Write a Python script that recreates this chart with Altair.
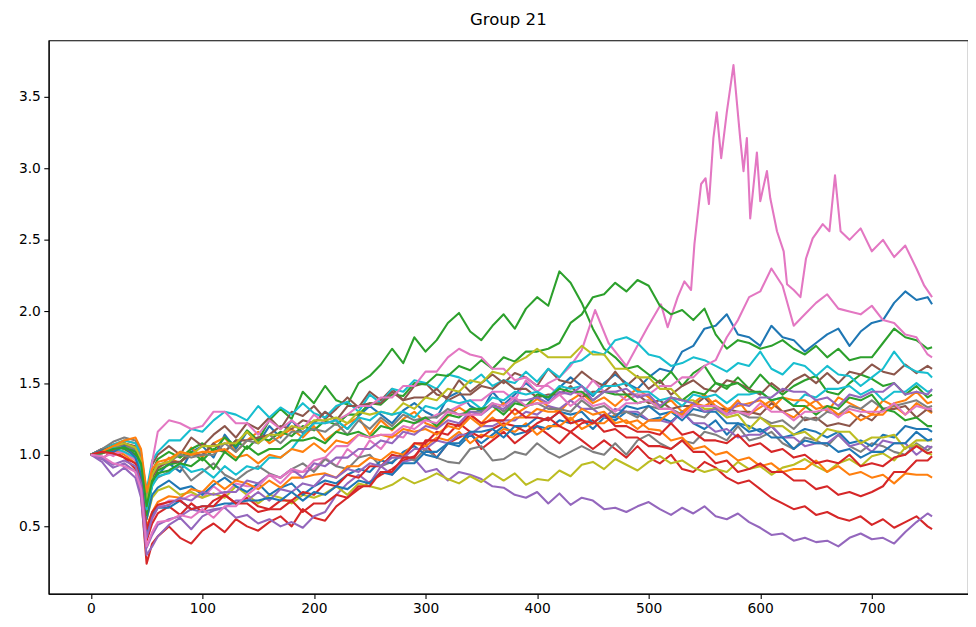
import altair as alt
import pandas as pd

TITLE = "Group 21"

X_GRID = [0, 10, 20, 30, 40, 45, 50, 55, 60,
          70, 80, 90, 100, 110, 120, 130, 140, 150, 160,
          170, 180, 190, 200, 210, 220, 230, 240, 250, 260,
          270, 280, 290, 300, 310, 320, 330, 340, 350, 360,
          370, 380, 390, 400, 410, 420, 430, 440, 450, 460,
          470, 480, 490, 500, 510, 520, 530, 540, 550, 560,
          570, 580, 590, 600, 610, 620, 630, 640, 650, 660,
          670, 680, 690, 700, 710, 720, 730, 740, 750, 754]

blue1 = [1.00,1.04,1.00,1.08,1.02,0.88,0.62,0.82,0.86,
         0.94,0.88,1.02,1.06,0.98,1.14,1.04,1.16,1.08,1.20,
         1.12,1.24,1.15,1.22,1.30,1.24,1.18,1.27,1.34,1.28,
         1.22,1.31,1.36,1.30,1.26,1.40,1.44,1.34,1.30,1.44,
         1.35,1.42,1.50,1.44,1.38,1.47,1.54,1.48,1.41,1.50,
         1.56,1.50,1.46,1.54,1.60,1.58,1.72,1.76,1.88,1.90,
         1.98,1.84,1.82,1.76,1.90,1.82,1.80,1.72,1.78,1.84,
         1.88,1.76,1.86,1.92,1.94,2.06,2.14,2.08,2.10,2.05]
orange1 = [1.00,1.02,1.07,1.10,1.08,1.00,0.70,0.86,0.90,
           0.98,0.94,1.05,0.98,1.08,1.12,1.02,1.10,1.16,1.08,
           1.13,1.18,1.12,1.20,1.10,1.16,1.22,1.26,1.14,1.24,
           1.17,1.25,1.30,1.22,1.19,1.27,1.33,1.28,1.22,1.30,
           1.36,1.28,1.33,1.39,1.34,1.30,1.38,1.43,1.36,1.40,
           1.34,1.41,1.46,1.40,1.34,1.38,1.30,1.36,1.42,1.34,
           1.30,1.38,1.28,1.33,1.38,1.30,1.26,1.33,1.38,1.30,
           1.40,1.36,1.32,1.28,1.38,1.34,1.28,1.36,1.31,1.29]
green1 = [1.00,1.03,1.04,1.08,1.04,0.95,0.65,0.88,0.97,
          1.02,0.98,1.04,1.08,1.03,1.12,1.06,1.17,1.10,1.24,
          1.32,1.25,1.44,1.36,1.48,1.38,1.35,1.50,1.55,1.63,
          1.74,1.64,1.82,1.72,1.80,1.92,1.99,1.86,1.80,1.90,
          1.98,1.88,2.02,2.10,2.04,2.28,2.20,2.06,1.88,1.74,
          1.68,1.60,1.62,1.56,1.50,1.58,1.48,1.57,1.62,1.50,
          1.46,1.54,1.46,1.56,1.48,1.42,1.48,1.52,1.55,1.44,
          1.42,1.50,1.56,1.53,1.48,1.50,1.42,1.48,1.40,1.42]
red1 = [1.00,0.97,1.03,0.98,0.90,0.72,0.24,0.38,0.43,
        0.50,0.42,0.38,0.47,0.52,0.46,0.55,0.50,0.47,0.53,
        0.57,0.50,0.62,0.56,0.54,0.64,0.70,0.76,0.81,0.86,
        0.90,0.96,0.99,1.07,0.98,1.08,1.12,1.16,1.04,1.10,
        1.16,1.08,1.14,1.20,1.14,1.08,1.16,1.10,1.04,1.10,
        1.04,0.98,1.06,0.98,0.94,1.00,0.90,0.88,0.95,0.91,
        0.84,0.80,0.82,0.76,0.70,0.66,0.62,0.64,0.58,0.60,
        0.56,0.54,0.57,0.51,0.55,0.49,0.53,0.57,0.50,0.48]
purple1 = [1.00,0.95,0.85,0.91,0.84,0.70,0.30,0.36,0.43,
           0.51,0.56,0.48,0.57,0.61,0.63,0.56,0.58,0.52,0.55,
           0.50,0.53,0.49,0.57,0.60,0.72,0.80,0.86,0.80,0.92,
           0.86,0.95,0.97,0.88,0.90,0.82,0.88,0.86,0.83,0.78,
           0.77,0.72,0.70,0.74,0.66,0.73,0.65,0.70,0.68,0.62,
           0.63,0.60,0.64,0.67,0.62,0.58,0.63,0.59,0.64,0.57,
           0.55,0.59,0.53,0.49,0.44,0.45,0.40,0.42,0.39,0.40,
           0.36,0.42,0.45,0.41,0.42,0.38,0.46,0.53,0.59,0.57]
brown1 = [1.00,1.04,1.07,1.08,1.06,0.98,0.72,0.93,1.00,
          1.06,1.00,1.12,1.06,1.14,1.20,1.12,1.22,1.18,1.26,
          1.18,1.30,1.27,1.34,1.25,1.32,1.40,1.33,1.44,1.38,
          1.46,1.38,1.48,1.50,1.42,1.40,1.52,1.44,1.50,1.56,
          1.50,1.57,1.54,1.48,1.60,1.52,1.50,1.58,1.52,1.48,
          1.58,1.48,1.55,1.46,1.52,1.42,1.48,1.52,1.46,1.44,
          1.52,1.50,1.46,1.42,1.50,1.44,1.52,1.56,1.50,1.57,
          1.50,1.58,1.56,1.63,1.58,1.56,1.63,1.57,1.62,1.60]
gray1 = [1.00,1.04,1.09,1.12,1.10,1.02,0.60,0.79,0.84,
         0.88,0.92,0.82,0.88,0.94,0.86,0.82,0.88,0.92,0.87,
         0.84,0.90,0.94,0.88,0.97,0.92,0.90,0.98,1.00,0.92,
         0.95,1.00,0.96,1.04,0.98,0.95,0.94,1.04,1.06,0.96,
         0.97,1.02,1.00,1.08,1.02,0.98,1.02,1.06,1.02,1.00,
         1.08,1.00,1.10,1.14,1.08,1.04,1.10,1.08,1.16,1.14,
         1.10,1.20,1.10,1.12,1.16,1.08,1.04,1.12,1.10,1.06,
         1.14,1.06,1.02,1.08,1.06,1.02,1.00,1.08,1.03,1.06]
olive1 = [1.00,1.02,1.05,1.02,0.96,0.86,0.55,0.70,0.75,
          0.78,0.72,0.74,0.70,0.73,0.70,0.78,0.72,0.66,0.72,
          0.70,0.66,0.72,0.70,0.73,0.78,0.72,0.80,0.78,0.76,
          0.79,0.84,0.80,0.83,0.87,0.83,0.80,0.85,0.81,0.87,
          0.82,0.87,0.79,0.83,0.82,0.89,0.85,0.93,0.95,0.90,
          0.97,0.93,0.89,0.95,0.99,0.94,0.96,0.91,0.88,0.90,
          0.88,0.95,0.90,0.92,0.86,0.91,0.93,0.97,0.92,0.88,
          0.94,0.97,0.92,0.99,1.01,0.96,1.05,1.07,1.01,1.00]
cyan1 = [1.00,1.03,1.07,1.10,1.08,1.00,0.75,0.96,1.02,
         1.10,1.10,1.18,1.16,1.24,1.30,1.28,1.24,1.34,1.26,
         1.33,1.28,1.36,1.29,1.26,1.34,1.37,1.30,1.42,1.36,
         1.46,1.44,1.52,1.50,1.46,1.56,1.54,1.50,1.56,1.48,
         1.52,1.50,1.58,1.51,1.60,1.54,1.64,1.66,1.72,1.70,
         1.80,1.82,1.78,1.70,1.68,1.62,1.64,1.68,1.66,1.62,
         1.58,1.64,1.62,1.72,1.60,1.56,1.64,1.62,1.55,1.62,
         1.56,1.55,1.48,1.54,1.60,1.72,1.62,1.58,1.57,1.54]
blue2 = [1.00,1.02,1.05,1.06,1.00,0.90,0.55,0.72,0.77,
         0.82,0.76,0.78,0.72,0.79,0.84,0.78,0.74,0.80,0.72,
         0.77,0.80,0.72,0.78,0.82,0.80,0.86,0.90,0.88,0.96,
         0.94,1.02,1.06,1.00,0.98,1.08,1.06,1.14,1.08,1.14,
         1.20,1.14,1.16,1.20,1.18,1.24,1.22,1.25,1.18,1.26,
         1.24,1.30,1.28,1.24,1.26,1.23,1.30,1.22,1.18,1.24,
         1.14,1.22,1.20,1.16,1.20,1.12,1.14,1.18,1.16,1.12,
         1.16,1.08,1.10,1.06,1.14,1.12,1.20,1.18,1.18,1.16]
orange2 = [1.00,1.01,1.04,1.00,0.94,0.82,0.50,0.60,0.67,
           0.71,0.70,0.76,0.74,0.82,0.76,0.82,0.80,0.76,0.82,
           0.77,0.84,0.84,0.86,0.87,0.84,0.92,0.92,0.98,0.96,
           1.02,1.00,1.08,1.06,1.12,1.10,1.16,1.08,1.14,1.12,
           1.18,1.16,1.22,1.14,1.20,1.20,1.26,1.18,1.22,1.22,
           1.28,1.22,1.24,1.18,1.17,1.10,1.12,1.04,1.06,1.00,
           1.02,0.96,0.98,0.92,0.94,0.88,0.90,0.90,0.96,0.88,
           0.92,0.86,0.88,0.84,0.86,0.80,0.87,0.86,0.86,0.84]
green2 = [1.00,1.02,1.06,1.04,1.00,0.92,0.58,0.80,0.89,
          0.93,0.95,1.02,0.96,1.04,1.02,1.10,1.04,1.12,1.10,
          1.16,1.13,1.20,1.17,1.24,1.21,1.28,1.28,1.36,1.35,
          1.42,1.41,1.50,1.49,1.56,1.55,1.62,1.59,1.66,1.60,
          1.68,1.65,1.72,1.72,1.74,1.78,1.92,1.98,2.10,2.12,
          2.20,2.14,2.22,2.18,2.04,1.98,2.01,1.94,2.02,1.84,
          1.74,1.80,1.78,1.74,1.76,1.80,1.74,1.70,1.76,1.68,
          1.74,1.66,1.68,1.68,1.78,1.88,1.82,1.80,1.74,1.75]
red2 = [1.00,1.01,1.04,1.06,0.98,0.84,0.40,0.52,0.59,
        0.64,0.58,0.66,0.60,0.68,0.72,0.66,0.70,0.64,0.62,
        0.68,0.68,0.74,0.72,0.80,0.78,0.86,0.84,0.92,0.92,
        1.00,0.98,1.08,1.08,1.16,1.14,1.22,1.16,1.12,1.18,
        1.22,1.20,1.16,1.22,1.26,1.20,1.16,1.22,1.24,1.16,
        1.18,1.12,1.12,1.06,1.06,1.04,1.10,1.02,1.02,0.94,
        0.96,0.88,0.90,0.94,0.88,0.88,0.82,0.82,0.76,0.78,
        0.72,0.74,0.71,0.74,0.78,0.88,0.88,0.96,0.96,0.99]
purple2 = [1.00,0.97,0.91,0.94,0.88,0.74,0.35,0.44,0.51,
           0.55,0.57,0.62,0.60,0.62,0.63,0.68,0.68,0.74,0.68,
           0.76,0.74,0.80,0.78,0.86,0.84,0.90,0.88,0.94,0.92,
           0.98,0.98,1.04,1.04,1.10,1.08,1.14,1.14,1.20,1.20,
           1.24,1.24,1.30,1.28,1.34,1.32,1.38,1.32,1.32,1.26,
           1.32,1.30,1.30,1.24,1.24,1.22,1.30,1.22,1.22,1.16,
           1.18,1.12,1.14,1.14,1.20,1.12,1.12,1.06,1.08,1.08,
           1.14,1.06,1.08,1.02,1.10,1.08,1.08,1.00,1.06,1.05]
brown2 = [1.00,1.03,1.06,1.07,1.04,0.96,0.66,0.84,0.91,
          0.95,0.95,1.00,1.00,1.08,1.02,1.10,1.10,1.12,1.14,
          1.20,1.18,1.24,1.22,1.30,1.24,1.34,1.34,1.36,1.36,
          1.44,1.38,1.40,1.40,1.46,1.38,1.42,1.42,1.48,1.46,
          1.52,1.46,1.46,1.40,1.42,1.42,1.48,1.40,1.44,1.44,
          1.50,1.42,1.42,1.36,1.38,1.32,1.34,1.34,1.40,1.32,
          1.32,1.30,1.30,1.28,1.36,1.30,1.32,1.24,1.26,1.20,
          1.22,1.20,1.28,1.24,1.32,1.32,1.34,1.26,1.32,1.30]
pink2 = [1.00,0.98,1.01,1.02,0.96,0.88,0.62,0.95,1.16,
         1.24,1.22,1.18,1.20,1.30,1.30,1.22,1.22,1.14,1.24,
         1.18,1.24,1.18,1.28,1.22,1.24,1.28,1.34,1.34,1.40,
         1.40,1.48,1.48,1.58,1.58,1.68,1.74,1.70,1.68,1.60,
         1.60,1.52,1.54,1.48,1.48,1.42,1.44,1.42,1.52,1.44,
         1.44,1.38,1.42,1.42,1.48,1.48,1.54,1.54,1.62,1.66,
         1.82,1.94,2.10,2.14,2.30,2.18,1.90,1.98,2.06,2.12,
         2.02,2.00,1.98,2.04,1.94,1.92,1.84,1.82,1.70,1.68]
gray2 = [1.00,1.02,1.05,1.06,1.04,1.00,0.70,0.86,0.93,
         0.95,1.00,0.98,1.00,1.00,1.08,1.02,1.10,1.08,1.14,
         1.08,1.16,1.16,1.18,1.16,1.22,1.14,1.24,1.18,1.26,
         1.20,1.28,1.24,1.26,1.26,1.32,1.28,1.30,1.30,1.36,
         1.30,1.38,1.34,1.36,1.32,1.32,1.30,1.38,1.32,1.34,
         1.28,1.30,1.26,1.34,1.32,1.32,1.28,1.28,1.26,1.34,
         1.28,1.30,1.26,1.26,1.22,1.24,1.18,1.26,1.24,1.30,
         1.28,1.34,1.32,1.38,1.32,1.34,1.36,1.38,1.33,1.34]
olive2 = [1.00,1.02,1.06,1.08,1.05,0.96,0.66,0.86,0.93,
          0.95,1.02,1.00,1.06,1.06,1.08,1.08,1.16,1.08,1.14,
          1.14,1.20,1.18,1.24,1.24,1.26,1.22,1.30,1.28,1.30,
          1.28,1.36,1.32,1.40,1.38,1.46,1.44,1.52,1.50,1.58,
          1.56,1.64,1.68,1.74,1.68,1.68,1.68,1.76,1.70,1.70,
          1.60,1.60,1.54,1.54,1.46,1.46,1.38,1.38,1.32,1.32,
          1.26,1.28,1.18,1.26,1.20,1.20,1.14,1.16,1.10,1.18,
          1.16,1.16,1.08,1.12,1.12,1.14,1.04,1.10,1.10,1.10]
cyan2 = [1.00,1.01,1.05,1.02,0.98,0.90,0.62,0.78,0.85,
         0.87,0.94,0.88,0.90,0.84,0.92,0.86,0.92,0.90,0.98,
         0.98,1.04,1.14,1.22,1.22,1.24,1.18,1.26,1.24,1.30,
         1.28,1.30,1.26,1.34,1.32,1.38,1.36,1.38,1.32,1.40,
         1.38,1.44,1.42,1.44,1.40,1.48,1.46,1.48,1.42,1.48,
         1.48,1.50,1.44,1.44,1.38,1.40,1.34,1.42,1.40,1.42,
         1.36,1.42,1.42,1.44,1.38,1.40,1.34,1.42,1.40,1.46,
         1.46,1.48,1.42,1.46,1.38,1.44,1.44,1.50,1.44,1.45]
blue3 = [1.00,1.03,1.02,1.06,0.98,0.86,0.46,0.58,0.63,
         0.63,0.68,0.62,0.64,0.64,0.66,0.66,0.68,0.68,0.70,
         0.68,0.74,0.68,0.74,0.72,0.78,0.76,0.82,0.80,0.88,
         0.86,0.94,0.94,1.02,1.02,1.08,1.08,1.16,1.16,1.18,
         1.12,1.20,1.20,1.26,1.24,1.30,1.28,1.30,1.22,1.28,
         1.26,1.34,1.32,1.34,1.28,1.30,1.24,1.32,1.30,1.30,
         1.22,1.22,1.16,1.18,1.12,1.12,1.04,1.10,1.08,1.08,
         1.02,1.04,0.98,1.02,1.02,1.08,1.08,1.16,1.10,1.11]
orange3 = [1.00,1.02,1.06,1.10,1.12,1.04,0.74,0.90,0.95,
           0.97,1.02,1.00,1.02,1.02,1.04,0.98,1.00,0.94,1.00,
           0.98,1.04,1.02,1.08,1.02,1.10,1.08,1.14,1.12,1.14,
           1.12,1.18,1.16,1.18,1.14,1.20,1.18,1.26,1.20,1.26,
           1.20,1.26,1.26,1.32,1.30,1.30,1.24,1.32,1.28,1.30,
           1.22,1.24,1.18,1.24,1.24,1.30,1.28,1.36,1.34,1.38,
           1.32,1.34,1.36,1.38,1.32,1.40,1.38,1.38,1.32,1.34,
           1.28,1.30,1.24,1.28,1.28,1.36,1.38,1.44,1.36,1.37]
green3 = [1.00,1.01,1.04,1.05,1.02,0.94,0.64,0.82,0.87,
          0.89,0.94,0.92,0.98,0.90,1.02,0.96,1.06,1.00,1.04,
          1.04,1.10,1.10,1.12,1.08,1.16,1.14,1.16,1.12,1.20,
          1.18,1.24,1.22,1.26,1.20,1.28,1.26,1.32,1.32,1.34,
          1.28,1.36,1.34,1.42,1.40,1.46,1.44,1.44,1.38,1.44,
          1.42,1.42,1.36,1.38,1.32,1.40,1.38,1.44,1.42,1.50,
          1.48,1.50,1.44,1.44,1.38,1.40,1.34,1.34,1.28,1.34,
          1.32,1.40,1.38,1.42,1.32,1.30,1.24,1.26,1.20,1.20]
red3 = [1.00,1.02,1.01,0.98,0.94,0.80,0.48,0.60,0.65,
        0.67,0.68,0.62,0.64,0.64,0.72,0.66,0.66,0.60,0.62,
        0.62,0.68,0.60,0.66,0.66,0.72,0.70,0.78,0.78,0.88,
        0.88,0.98,0.98,1.10,1.10,1.22,1.20,1.28,1.22,1.24,
        1.24,1.32,1.26,1.26,1.24,1.30,1.22,1.24,1.22,1.28,
        1.20,1.20,1.16,1.16,1.14,1.22,1.14,1.16,1.10,1.10,
        1.08,1.14,1.06,1.08,1.02,1.04,0.98,1.00,0.94,0.96,
        0.94,1.00,0.92,0.94,0.92,0.98,1.00,1.06,1.01,1.02]
purple3 = [1.00,0.98,0.93,0.96,0.92,0.80,0.42,0.56,0.63,
           0.65,0.70,0.68,0.74,0.72,0.74,0.74,0.82,0.80,0.86,
           0.84,0.90,0.84,0.94,0.92,0.98,0.98,1.04,1.04,1.10,
           1.08,1.16,1.14,1.20,1.18,1.24,1.22,1.30,1.28,1.34,
           1.32,1.38,1.38,1.40,1.36,1.44,1.42,1.48,1.38,1.44,
           1.44,1.46,1.40,1.42,1.34,1.40,1.38,1.36,1.30,1.32,
           1.28,1.36,1.34,1.40,1.40,1.46,1.44,1.44,1.38,1.40,
           1.34,1.42,1.40,1.44,1.44,1.50,1.42,1.44,1.42,1.46]
pink3 = [1.00,0.99,0.94,0.92,0.88,0.76,0.36,0.46,0.53,
         0.54,0.58,0.56,0.62,0.56,0.64,0.64,0.72,0.78,0.86,
         0.84,0.90,0.88,0.96,0.98,1.06,1.06,1.14,1.12,1.14,
         1.14,1.20,1.18,1.24,1.22,1.30,1.28,1.28,1.28,1.36,
         1.34,1.40,1.34,1.36,1.36,1.42,1.34,1.40,1.34,1.36,
         1.30,1.36,1.36,1.38,1.32,1.32,1.26,1.34,1.34,1.34,
         1.28,1.30,1.28,1.36,1.30,1.30,1.24,1.30,1.30,1.32,
         1.26,1.32,1.30,1.30,1.30,1.36,1.28,1.34,1.32,1.32]

PINK1_X = [0, 10, 20, 30, 40, 45, 50, 55, 60,
           70, 80, 90, 100, 110, 120, 130, 140, 150, 160,
           170, 180, 190, 200, 210, 220, 230, 240, 250, 260,
           270, 280, 290, 300, 310, 320, 330, 340, 350, 360,
           370, 380, 390, 400, 410, 420, 430,
           440, 452, 464, 480, 499, 511, 517, 526, 532, 538, 541, 547, 551, 554, 558,
           561, 565, 570, 576, 582, 585, 588, 591, 597, 600, 606, 609, 615, 621, 624,
           630, 636, 641, 647, 656, 662, 667, 672, 680, 690, 700, 710, 720, 730, 740,
           747, 754]
pink1 = [1.00,1.03,0.99,1.04,0.98,0.85,0.45,0.55,0.63,
         0.68,0.68,0.72,0.70,0.78,0.72,0.80,0.78,0.78,0.86,
         0.80,0.88,0.88,0.90,0.98,0.92,1.04,0.98,1.10,1.04,
         1.14,1.12,1.22,1.24,1.28,1.30,1.34,1.38,1.38,1.44,
         1.44,1.38,1.52,1.44,1.50,1.54,1.62,
         1.73,2.01,1.78,1.62,1.89,2.05,1.89,2.10,2.21,2.15,2.47,2.89,2.93,2.75,3.21,
         3.39,3.07,3.39,3.72,3.21,2.98,3.21,2.65,3.11,2.77,2.98,2.79,2.56,2.42,2.19,
         2.15,2.10,2.37,2.51,2.61,2.56,2.95,2.56,2.50,2.58,2.42,2.50,2.38,2.46,2.30,
         2.18,2.10]

TAB = {"blue": "#1f77b4", "orange": "#ff7f0e", "green": "#2ca02c", "red": "#d62728",
       "purple": "#9467bd", "brown": "#8c564b", "pink": "#e377c2", "gray": "#7f7f7f",
       "olive": "#bcbd22", "cyan": "#17becf"}

SERIES = [
    ("blue", X_GRID, blue1), ("orange", X_GRID, orange1), ("green", X_GRID, green1),
    ("red", X_GRID, red1), ("purple", X_GRID, purple1), ("brown", X_GRID, brown1),
    ("pink", PINK1_X, pink1), ("gray", X_GRID, gray1), ("olive", X_GRID, olive1),
    ("cyan", X_GRID, cyan1), ("blue", X_GRID, blue2), ("orange", X_GRID, orange2),
    ("green", X_GRID, green2), ("red", X_GRID, red2), ("purple", X_GRID, purple2),
    ("brown", X_GRID, brown2), ("pink", X_GRID, pink2), ("gray", X_GRID, gray2),
    ("olive", X_GRID, olive2), ("cyan", X_GRID, cyan2), ("blue", X_GRID, blue3),
    ("orange", X_GRID, orange3), ("green", X_GRID, green3), ("red", X_GRID, red3),
    ("purple", X_GRID, purple3), ("pink", X_GRID, pink3),
]

rows = []
names = []
colors = []
for i, (c, xs, ys) in enumerate(SERIES):
    assert len(xs) == len(ys), (i, len(xs), len(ys))
    name = f"s{i:02d}"
    names.append(name)
    colors.append(TAB[c])
    for x, y in zip(xs, ys):
        rows.append({"x": x, "y": y, "series": name})
df = pd.DataFrame(rows)

FONT = "DejaVu Sans"

chart = alt.Chart(df).mark_line(strokeWidth=2.1, strokeJoin="round", clip=True).encode(
    x=alt.X("x:Q", scale=alt.Scale(domain=[-37.78, 786.2], nice=False, zero=False),
            axis=alt.Axis(values=[0, 100, 200, 300, 400, 500, 600, 700], title=None,
                          format="d")),
    y=alt.Y("y:Q", scale=alt.Scale(domain=[0.03, 3.893], nice=False, zero=False),
            axis=alt.Axis(values=[0.5, 1.0, 1.5, 2.0, 2.5, 3.0, 3.5], title=None,
                          format=".1f")),
    color=alt.Color("series:N", scale=alt.Scale(domain=names, range=colors), legend=None),
    order=alt.Order("x:Q"),
).properties(
    width=927,
    height=558,
    title=alt.TitleParams(TITLE, font=FONT, fontSize=16.7, fontWeight="normal",
                          color="black", anchor="middle", frame="group",
                          baseline="alphabetic", offset=8.3, dy=10),
    autosize=alt.AutoSizeParams(type="none"),
    padding={"left": 41, "top": 30, "right": 0, "bottom": 30},
).configure_axis(
    labelFont=FONT, labelFontSize=13.9, labelColor="black",
    tickColor="black", tickSize=4.9, tickWidth=1.1,
    domainColor="black", domainWidth=1.1, grid=False, labelPadding=3.5,
).configure_view(
    stroke="black", strokeWidth=1.1,
)

chart.save("out.html", embed_options={"renderer": "svg", "actions": False})
